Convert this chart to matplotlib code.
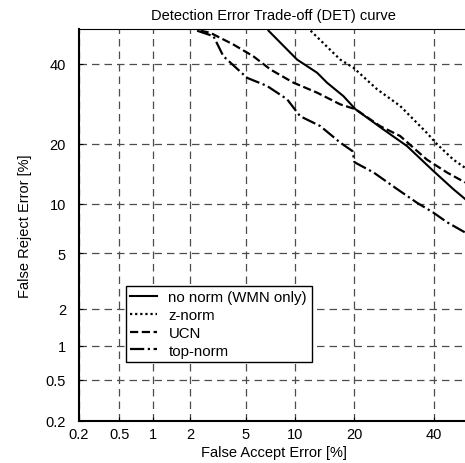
import numpy as np
import matplotlib
matplotlib.use("Agg")
import matplotlib.pyplot as plt
from statistics import NormalDist

plt.rcParams['font.family'] = ['Liberation Sans', 'DejaVu Sans']

# --- DET curves (values in %) ---
nonorm_fa = [7.0, 10.3, 13.2, 14.8, 17.8, 20.2, 26.4, 32.5, 39.7, 45.5, 49.0]
nonorm_fr = [49.5, 41.1, 37.4, 34.7, 31.1, 27.8, 23.1, 19.5, 14.9, 12.0, 10.6]

znorm_fa = [12.2, 17.2, 19.8, 25.0, 30.7, 37.9, 40.8, 45.5, 49.0]
znorm_fr = [49.5, 41.1, 38.8, 32.9, 28.6, 22.3, 19.9, 16.9, 15.4]

ucn_fa = [2.4, 2.83, 4.12, 5.6, 7.2, 9.8, 13.2, 17.2, 20.2, 25.7, 30.7, 37.9, 43.7, 49.0]
ucn_fr = [49.5, 48.9, 45.5, 42.1, 38.3, 34.7, 32.0, 29.0, 27.8, 23.8, 21.6, 16.9, 14.6, 13.0]

top_fa = [2.26, 2.99, 3.52, 5.11, 6.85, 9.03, 10.7, 13.7, 17.2, 19.6, 20.0, 24.2, 29.9, 35.2, 39.7, 43.7, 49.0]
top_fr = [49.5, 47.9, 42.1, 36.0, 33.8, 30.3, 26.1, 23.8, 20.2, 18.5, 16.4, 14.6, 12.0, 10.1, 8.9, 7.8, 6.76]

ticks = [0.2, 0.5, 1, 2, 5, 10, 20, 40]
tick_labels = ['0.2', '0.5', '1', '2', '5', '10', '20', '40']

# --- probit (normal deviate) scale ---
nd = NormalDist()
_ppf = np.vectorize(nd.inv_cdf, otypes=[float])
_cdf = np.vectorize(nd.cdf, otypes=[float])

def fwd(v):
    v = np.clip(np.asarray(v, dtype=float) / 100.0, 1e-9, 1 - 1e-9)
    return _ppf(v)

def inv(v):
    return _cdf(np.asarray(v, dtype=float)) * 100.0

W, H = 465, 464
fig = plt.figure(figsize=(W / 100, H / 100), dpi=100)
ax = fig.add_axes([78.5 / W, 42 / H, 390 / W, 392 / H])
ax.set_xscale('function', functions=(fwd, inv))
ax.set_yscale('function', functions=(fwd, inv))

ax.plot(nonorm_fa, nonorm_fr, color='black', linestyle='-', lw=1.5, label='no norm (WMN only)')
ax.plot(znorm_fa, znorm_fr, color='black', linestyle=(0, (1, 1.3)), lw=1.6, label='z-norm')
ax.plot(ucn_fa, ucn_fr, color='black', linestyle='--', lw=1.6, label='UCN')
ax.plot(top_fa, top_fr, color='black', linestyle='-.', lw=1.6, label='top-norm')

ax.set_xlim(0.2, 50)
ax.set_ylim(0.2, 50)
ax.set_xticks(ticks)
ax.set_xticklabels(tick_labels)
ax.set_yticks(ticks)
ax.set_yticklabels(tick_labels)
ax.minorticks_off()
ax.tick_params(axis='both', direction='in', length=3, labelsize=10.5)
ax.tick_params(axis='x', pad=4)
ax.tick_params(axis='y', pad=9)

ax.grid(True, color='0.3', linestyle=(0, (6, 4)), linewidth=0.9)
ax.set_axisbelow(True)

for s in ['left', 'bottom']:
    ax.spines[s].set_linewidth(1.5)
ax.spines['top'].set_linewidth(0.8)
ax.spines['right'].set_visible(False)

ax.set_title("Detection Error Trade-off (DET) curve", fontsize=10.5, pad=7)
ax.set_xlabel("False Accept Error [%]", fontsize=10.5, labelpad=3)
ax.set_ylabel("False Reject Error [%]", fontsize=10.5, labelpad=10)

leg = ax.legend(loc='upper left', bbox_to_anchor=(0.121, 0.345), borderaxespad=0,
                fancybox=False, edgecolor='black', framealpha=1, fontsize=10.8,
                handlelength=1.8, labelspacing=0.25, handletextpad=0.75, borderpad=0.3)
leg.get_frame().set_linewidth(1.0)

plt.savefig("out.png", dpi=100)
